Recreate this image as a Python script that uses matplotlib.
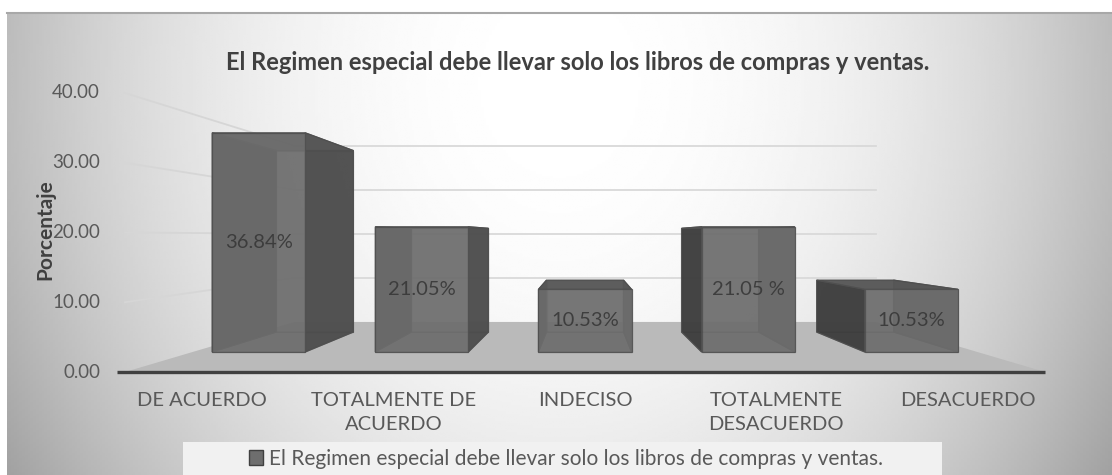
import matplotlib

matplotlib.use("Agg")
import matplotlib.pyplot as plt
import numpy as np
from matplotlib.patches import Polygon, Rectangle, Patch

categories = ["DE ACUERDO", "TOTALMENTE DE\nACUERDO", "INDECISO",
              "TOTALMENTE\nDESACUERDO", "DESACUERDO"]
values = [36.84, 21.05, 10.53, 21.05, 10.53]
value_labels = ["36.84%", "21.05%", "10.53%", "21.05 %", "10.53%"]
y_ticks = [0, 10, 20, 30, 40]
title = "El Regimen especial debe llevar solo los libros de compras y ventas."
series_name = "El Regimen especial debe llevar solo los libros de compras y ventas."

plt.rcParams["font.family"] = ["Lato", "DejaVu Sans"]

# fake 3D: one-point perspective toward a vanishing point
VP_X, VP_Y = 2.0, 19.5
S_FRONT, S_BAR_FRONT, S_BAR_BACK, S_WALL = 1.0, 0.853, 0.706, 0.632
HALF = 0.285
FLOOR_L, FLOOR_R = -0.405, 4.405
PX_CAT, PX_VAL = 191.3, 6.975

W, H = 1112, 475


def proj(x, v, s):
    return (VP_X + (x - VP_X) * s, VP_Y + (v - VP_Y) * s)


fig = plt.figure(figsize=(W / 100, H / 100), dpi=100)
fig.patch.set_facecolor("white")

# background gradient
bg = fig.add_axes([7 / W, 0, 1 - 7 / W, (H - 13) / H])
gx, gy = np.meshgrid(np.linspace(0, 1, 400), np.linspace(0, 1, 200))
r = np.sqrt(((gx - 0.5) / 0.5) ** 2 + ((gy - 0.15) / 1.4) ** 2)
shade = 1 - 0.26 * np.clip(r, 0, 1.3) ** 2.2
bg.imshow(shade, cmap="gray", vmin=0, vmax=1, aspect="auto",
          extent=(0, 1, 1, 0), interpolation="bilinear")
bg.set_axis_off()
fig.add_artist(plt.Line2D([7 / W, 1], [(H - 13) / H] * 2, color="#a8a8a8", lw=1.5))

ax = fig.add_axes([0, 0, 1, 1])
ax.set_axis_off()
ax.set_xlim(VP_X - 585 / PX_CAT, VP_X + (W - 585) / PX_CAT)
ax.set_ylim(-(H - 372) / PX_VAL, 372 / PX_VAL)

# gridlines: side wall and back wall
for t in y_ticks[1:]:
    p0 = proj(FLOOR_L, t, S_FRONT)
    p1 = proj(FLOOR_L, t, S_WALL)
    p2 = proj(FLOOR_R, t, S_WALL)
    ax.plot([p0[0], p1[0]], [p0[1], p1[1]], color="#d6d6d6", lw=1.3, zorder=1)
    ax.plot([p1[0], p2[0]], [p1[1], p2[1]], color="#d9d9d9", lw=1.3, zorder=1)

# floor
floor = [proj(FLOOR_L, 0, S_FRONT), proj(FLOOR_R, 0, S_FRONT),
         proj(FLOOR_R, 0, S_WALL), proj(FLOOR_L, 0, S_WALL)]
ax.add_patch(Polygon(floor, closed=True, facecolor="#bababa", edgecolor="none", zorder=2))
a0 = proj(FLOOR_L - 0.04, 0, S_FRONT)
a1 = proj(FLOOR_R, 0, S_FRONT)
ax.plot([a0[0], a1[0]], [a0[1], a1[1]], color="#404040", lw=2.4, zorder=3,
        solid_capstyle="butt")

# bars
for i, v in enumerate(values):
    x0, x1 = i - HALF, i + HALF
    F, B = S_BAR_FRONT, S_BAR_BACK
    faces = [
        ([(x0, 0, B), (x1, 0, B), (x1, v, B), (x0, v, B)], "#6a6a6a", 0.6),
        ([(x0, 0, F), (x1, 0, F), (x1, 0, B), (x0, 0, B)], "#6a6a6a", 0.6),
        ([(x0, 0, F), (x0, v, F), (x0, v, B), (x0, 0, B)], "#3c3c3c", 0.92),
        ([(x1, 0, F), (x1, v, F), (x1, v, B), (x1, 0, B)], "#4c4c4c", 0.92),
        ([(x0, v, F), (x1, v, F), (x1, v, B), (x0, v, B)], "#575757", 0.92),
        ([(x0, 0, F), (x1, 0, F), (x1, v, F), (x0, v, F)], "#6f6f6f", 0.86),
    ]
    for k, (pts, col, alp) in enumerate(faces):
        poly = [proj(*p) for p in pts]
        ax.add_patch(Polygon(poly, closed=True, facecolor=col, alpha=alp,
                             edgecolor="#4f4f4f", lw=0.9, zorder=4 + k * 0.1 + i * 0.01))
    lx, ly = proj(i, v / 2, F)
    ax.text(lx, ly, value_labels[i], ha="center", va="center", fontsize=14.5,
            color="#383838", alpha=0.9, zorder=6)

# y tick labels
for t in y_ticks:
    ax.text(VP_X - 485 / PX_CAT, t, f"{t:.2f}", ha="right", va="center",
            fontsize=13.5, color="#595959", zorder=6)

# category labels
for i, c in enumerate(categories):
    ax.text(i, -2.9, c, ha="center", va="top", fontsize=14.5, color="#595959",
            linespacing=1.45, zorder=6)

fig.text(578 / W, 1 - 63 / H, title, ha="center", va="center", fontsize=17,
         fontweight="bold", color="#404040")
fig.text(45 / W, 1 - 230 / H, "Porcentaje", ha="center", va="center", rotation=90,
         fontsize=15, fontweight="bold", color="#404040")

# legend
fig.add_artist(Rectangle((183 / W, 0), (942 - 183) / W, (H - 442) / H,
                         transform=fig.transFigure, facecolor="#f1f1f1",
                         edgecolor="none", zorder=5))
handle = Patch(facecolor="#6e6e6e", edgecolor="#404040")
leg = fig.legend([handle], [series_name], loc="center", frameon=False,
                 bbox_to_anchor=(566 / W, 1 - 459 / H), fontsize=15,
                 handlelength=0.7, handleheight=0.7, handletextpad=0.3,
                 labelcolor="#595959")
leg.set_zorder(6)

fig.savefig("out.png", dpi=100)
plt.close(fig)
